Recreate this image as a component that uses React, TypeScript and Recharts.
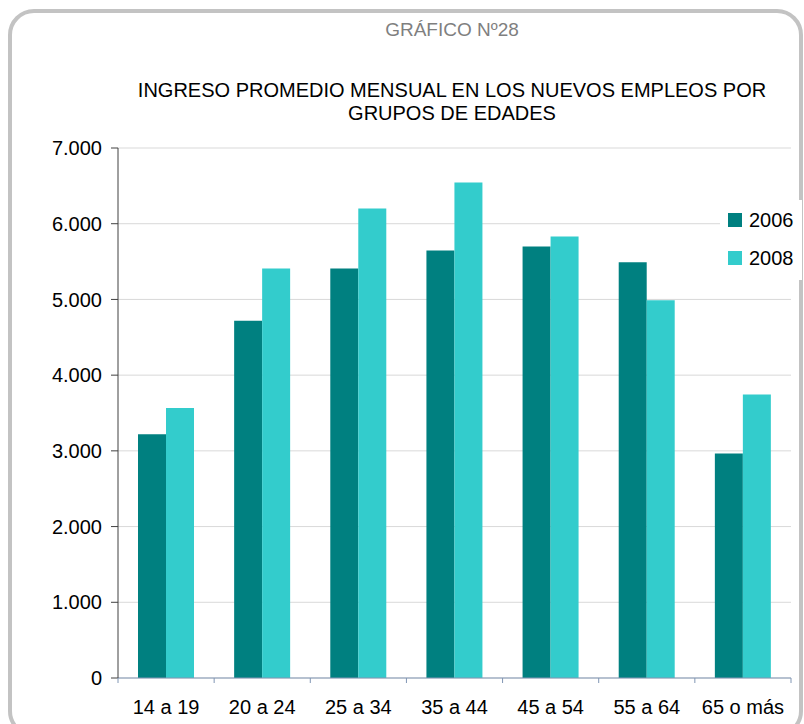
import { BarChart, Bar, XAxis, YAxis, CartesianGrid, Legend } from "recharts";

const categories = ["14 a 19", "20 a 24", "25 a 34", "35 a 44", "45 a 54", "55 a 64", "65 o más"];
const values2006 = [3220, 4720, 5410, 5645, 5700, 5490, 2965];
const values2008 = [3565, 5410, 6200, 6545, 5830, 4990, 3745];
const yTicks = [0, 1000, 2000, 3000, 4000, 5000, 6000, 7000];

const data = categories.map((name, i) => ({
    name,
    v2006: values2006[i],
    v2008: values2008[i],
}));

const FONT = '"Liberation Sans", Arial, sans-serif';
const CHART_W = 804;
const CHART_H = 724;
const MARGIN = { top: 148, right: 13, bottom: 0, left: 0 };
const Y_AXIS_W = 118;
const X_AXIS_H = 46;
const AXIS_BLUE = "#8096B4";

const formatThousands = (v: number) => String(v).replace(/\B(?=(\d{3})+(?!\d))/g, ".");

// tick marks sit between categories, label in the middle
const XTick = (props: any) => {
    const { x, y, payload, index } = props;
    const band = (CHART_W - MARGIN.left - MARGIN.right - Y_AXIS_W) / categories.length;
    return (
        <g>
            <line x1={x - band / 2} x2={x - band / 2} y1={y} y2={y + 5} stroke={AXIS_BLUE} />
            {index === categories.length - 1 && (
                <line x1={x + band / 2} x2={x + band / 2} y1={y} y2={y + 5} stroke={AXIS_BLUE} />
            )}
            <text
                x={x}
                y={y + 29}
                textAnchor="middle"
                dominantBaseline="central"
                fill="#000"
                fontSize={20}
                fontFamily={FONT}
            >
                {payload.value}
            </text>
        </g>
    );
};

const LegendContent = ({ payload }: any) => (
    <div style={{ paddingTop: 1, paddingLeft: 8 }}>
        {(payload || []).map((p: any) => (
            <div
                key={p.value}
                style={{ display: "flex", alignItems: "center", height: 38, fontFamily: FONT, fontSize: 20, color: "#000" }}
            >
                <span style={{ display: "inline-block", width: 14, height: 14, background: p.color, marginRight: 7 }} />
                <span>{p.value}</span>
            </div>
        ))}
    </div>
);

export default function App() {
    return (
        <div style={{ position: "absolute", left: 0, top: 0, width: CHART_W, height: CHART_H, overflow: "hidden", background: "#fff" }}>
            <div
                style={{
                    position: "absolute",
                    left: 8,
                    top: 9,
                    width: 795,
                    height: 728,
                    boxSizing: "border-box",
                    border: "4.5px solid #C3C3C3",
                    borderRadius: 26,
                }}
            />
            <div
                style={{
                    position: "absolute",
                    left: 0,
                    width: 904,
                    top: 19,
                    textAlign: "center",
                    fontFamily: FONT,
                    fontSize: 19,
                    color: "#7F7F7F",
                    lineHeight: "22px",
                }}
            >
                GRÁFICO Nº28
            </div>
            <div
                style={{
                    position: "absolute",
                    left: 0,
                    width: 904,
                    top: 79,
                    textAlign: "center",
                    fontFamily: FONT,
                    fontSize: 20,
                    color: "#000",
                    lineHeight: "23px",
                }}
            >
                INGRESO PROMEDIO MENSUAL EN LOS NUEVOS EMPLEOS POR
                <br />
                GRUPOS DE EDADES
            </div>
            <div style={{ position: "absolute", left: 0, top: 0 }}>
                <BarChart width={CHART_W} height={CHART_H} data={data} margin={MARGIN} barGap={0}>
                    <CartesianGrid vertical={false} stroke="#D9D9D9" />
                    <XAxis
                        dataKey="name"
                        height={X_AXIS_H}
                        axisLine={{ stroke: AXIS_BLUE }}
                        tickLine={false}
                        tickSize={0}
                        tickMargin={0}
                        interval={0}
                        tick={<XTick />}
                    />
                    <YAxis
                        width={Y_AXIS_W}
                        domain={[0, 7000]}
                        ticks={yTicks}
                        interval={0}
                        tickFormatter={formatThousands}
                        axisLine={{ stroke: "#404040" }}
                        tickLine={{ stroke: "#404040" }}
                        tickSize={7}
                        tickMargin={9}
                        tick={{ fill: "#000", fontSize: 20, fontFamily: FONT }}
                    />
                    <Legend
                        layout="vertical"
                        align="center"
                        verticalAlign="middle"
                        wrapperStyle={{ left: 720, top: 200, width: 82, height: 80, background: "#fff" }}
                        content={<LegendContent />}
                    />
                    <Bar dataKey="v2006" name="2006" fill="#008080" barSize={28} isAnimationActive={false} />
                    <Bar dataKey="v2008" name="2008" fill="#33CCCC" barSize={28} isAnimationActive={false} />
                </BarChart>
            </div>
        </div>
    );
}
